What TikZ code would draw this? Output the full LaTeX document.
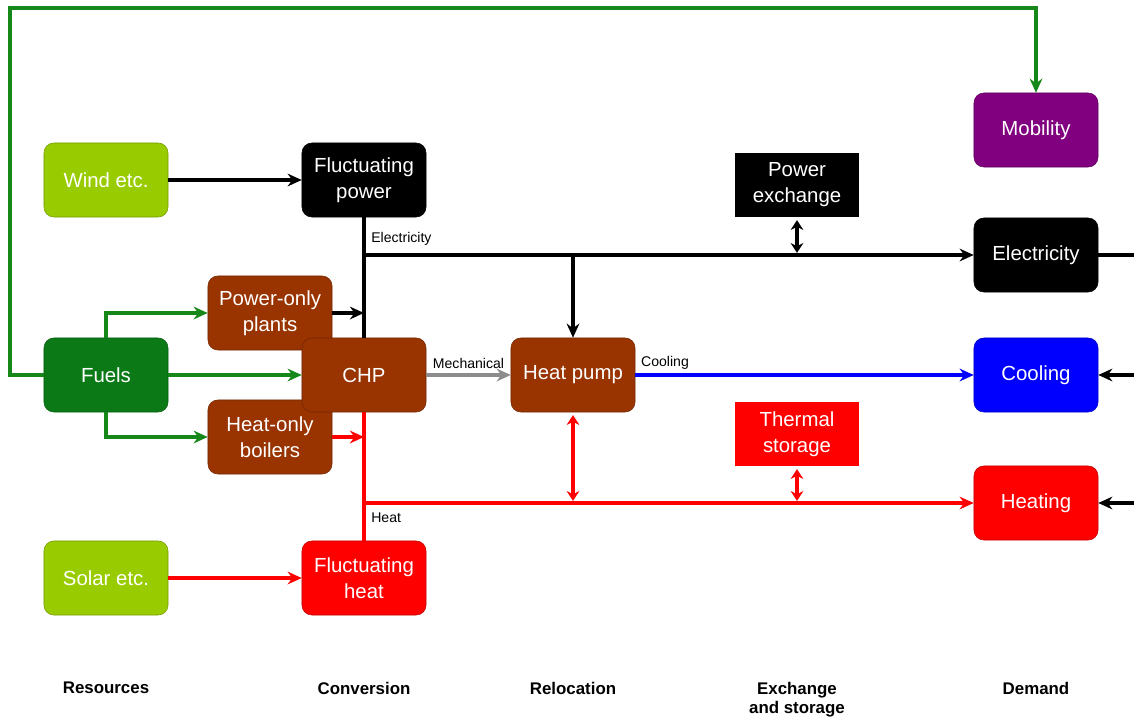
\documentclass[tikz,border=0pt]{standalone}
\usepackage{fontspec}
\setmainfont{Liberation Sans}
\usetikzlibrary{arrows.meta}
\definecolor{Leaf}{HTML}{99CC00}
\definecolor{Forest}{HTML}{0B7A16}
\definecolor{Pipe}{HTML}{16881A}
\definecolor{Rust}{HTML}{993300}
\definecolor{Plum}{HTML}{800080}
\definecolor{Cold}{HTML}{0000FF}
\definecolor{Hot}{HTML}{FF0000}
\definecolor{Shaft}{HTML}{8C8C8C}
\tikzset{
  unit/.style={rounded corners=7pt,draw=#1!75!black,fill=#1,text=white,
    minimum width=3.1cm,minimum height=1.85cm,align=center,
    font=\fontsize{14.5}{18.5}\selectfont},
  store/.style={fill=#1,text=white,minimum width=3.1cm,minimum height=1.6cm,
    align=center,font=\fontsize{14.5}{18.5}\selectfont},
  flow/.style={line width=2.3pt,draw=#1,-{Stealth[length=10pt,width=9pt]}},
  bus/.style={line width=2.3pt,draw=#1},
  swap/.style={line width=2.3pt,draw=#1,
    {Stealth[length=7pt,width=9pt]}-{Stealth[length=7pt,width=9pt]}},
  tag/.style={font=\fontsize{10}{12}\selectfont,inner sep=1pt},
  stage/.style={font=\bfseries\fontsize{12}{14}\selectfont,align=center}
}

\begin{document}
\begin{tikzpicture}[x=0.025cm,y=-0.025cm]
  \useasboundingbox (0,0) rectangle (1134,718);
  % boxes
  \node[unit=Leaf] (wind) at (106,180) {Wind etc.};
  \node[unit=Forest] (fuels) at (106,375) {Fuels};
  \node[unit=Leaf] (solar) at (106,578) {Solar etc.};
  \node[unit=black] (fpow) at (364,180) {Fluctuating\\power};
  \node[unit=Rust] (pop) at (270,313) {Power-only\\plants};
  \node[unit=Rust] (hob) at (270,437) {Heat-only\\boilers};
  \node[unit=Rust] (chp) at (364,375) {CHP};
  \node[unit=Hot] (fheat) at (364,578) {Fluctuating\\heat};
  \node[unit=Rust] (hp) at (573,375) {Heat pump};
  \node[store=black] (pex) at (797,185) {Power\\exchange};
  \node[store=Hot] (ts) at (797,434) {Thermal\\storage};
  \node[unit=Plum] (mob) at (1036,130) {Mobility};
  \node[unit=black] (elec) at (1036,255) {Electricity};
  \node[unit=Cold] (cool) at (1036,375) {Cooling};
  \node[unit=Hot] (heat) at (1036,503) {Heating};
  \coordinate (loop) at (10,8);
  \coordinate (ebus) at (364,255);
  \coordinate (hbus) at (364,503);
  \coordinate (eR) at (1134,255);
  \coordinate (cR) at (1134,375);
  \coordinate (hR) at (1134,503);
  % fuels
  \draw[flow=Pipe] (fuels.west) -| (loop) -| (mob.north);
  \draw[flow=Pipe] (fuels.north) |- (pop.west);
  \draw[flow=Pipe] (fuels.south) |- (hob.west);
  \draw[flow=Pipe] (fuels) -- (chp);
  % electricity
  \draw[flow=black] (wind) -- (fpow);
  \draw[bus=black] (fpow.south) -- (chp.north);
  \draw[flow=black] (ebus) -- (elec.west);
  \draw[flow=black] (pop.east) -- (pop.east -| chp.north);
  \draw[flow=black] (hp.north |- ebus) -- (hp.north);
  \draw[swap=black] ([yshift=-2pt]pex.south) -- ([yshift=1.5pt]pex.south |- ebus);
  \draw[bus=black] (elec.east) -- (eR);
  \draw[flow=black] (cR) -- (cool.east);
  \draw[flow=black] (hR) -- (heat.east);
  \node[tag,anchor=south west] at ([xshift=4pt,yshift=5.5pt]ebus) {Electricity};
  % heat and cooling
  \draw[flow=Shaft] (chp) -- node[tag,above,yshift=2.5pt] {Mechanical} (hp);
  \draw[flow=Cold] (hp) -- (cool);
  \node[tag,anchor=south west] at ([xshift=3pt,yshift=3pt]hp.east) {Cooling};
  \draw[bus=Hot] (chp.south) -- (fheat.north);
  \draw[flow=Hot] (hbus) -- (heat.west);
  \draw[flow=Hot] (hob.east) -- (hob.east -| chp.south);
  \draw[swap=Hot] ([yshift=-2pt]hp.south) -- ([yshift=1.5pt]hp.south |- hbus);
  \draw[swap=Hot] ([yshift=-2pt]ts.south) -- ([yshift=1.5pt]ts.south |- hbus);
  \draw[flow=Hot] (solar) -- (fheat);
  \node[tag,anchor=north west] at ([xshift=4pt,yshift=-6pt]hbus) {Heat};
  % stages
  \node[stage] (s1) at (106,688) {Resources};
  \node[stage] (s2) at (364,688) {Conversion};
  \node[stage] (s3) at (573,688) {Relocation};
  \node[stage,anchor=north] (s4) at (797,677) {Exchange\\and storage};
  \node[stage] (s5) at (1036,688) {Demand};
\end{tikzpicture}
\end{document}
